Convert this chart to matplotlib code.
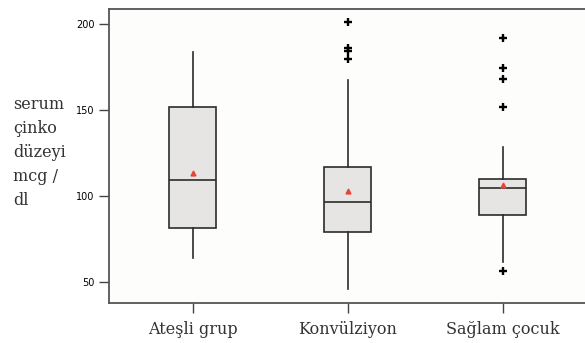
import matplotlib
matplotlib.use("Agg")
import matplotlib.pyplot as plt

groups = ["Ateşli grup", "Konvülziyon", "Sağlam çocuk"]
q1 = [81.4, 79.1, 89.1]
med = [109.3, 96.9, 104.7]
q3 = [151.7, 117.2, 110.1]
wlo = [64.3, 46.3, 61.6]
whi = [183.7, 167.4, 128.8]
means = [113.4, 103.3, 106.6]
fliers = [[], [201.2, 186.4, 184.7, 179.7], [191.9, 174.4, 168.0, 152.1, 56.6]]

stats = []
for i in range(len(groups)):
    stats.append(dict(label=groups[i], q1=q1[i], med=med[i], q3=q3[i],
                      whislo=wlo[i], whishi=whi[i], mean=means[i],
                      fliers=fliers[i]))

fig = plt.figure(figsize=(5.85, 3.43), dpi=100)
fig.patch.set_facecolor("white")
ax = fig.add_axes([0.1863, 0.1175, 0.8137, 0.8563])
ax.set_facecolor("#fdfdfc")

edge = "#2b2b2b"
ax.bxp(stats, positions=[1, 2, 3], widths=0.303, patch_artist=True,
       showmeans=True, showcaps=False,
       boxprops=dict(facecolor="#e6e5e3", edgecolor=edge, linewidth=1.2),
       medianprops=dict(color=edge, linewidth=1.2),
       whiskerprops=dict(color=edge, linewidth=1.2),
       meanprops=dict(marker="^", markerfacecolor="#e8433a",
                      markeredgecolor="#e8433a", markersize=3.5),
       flierprops=dict(marker="+", markeredgecolor="black",
                       markersize=5.5, markeredgewidth=1.7))

ax.set_xlim(0.458, 3.53)
ax.set_ylim(38.1, 208.9)
ax.set_yticks([50, 100, 150, 200])
ax.tick_params(axis="y", labelsize=7, length=7.5, width=1, color="#444",
               pad=3)
ax.tick_params(axis="x", length=7, width=1, color="#444", pad=6)
ax.set_xticks([1, 2, 3])
ax.set_xticklabels(groups, family="DejaVu Serif", fontsize=11.5,
                   color="#333")
for s in ax.spines.values():
    s.set_color("#555")
    s.set_linewidth(1.3)
ax.spines["right"].set_visible(False)

fig.text(0.022, 0.555, "serum\nçinko\ndüzeyi\nmcg /\ndl",
         family="DejaVu Serif", fontsize=11.5, color="#333",
         va="center", ha="left", linespacing=1.55)

fig.savefig("out.png", dpi=100)
